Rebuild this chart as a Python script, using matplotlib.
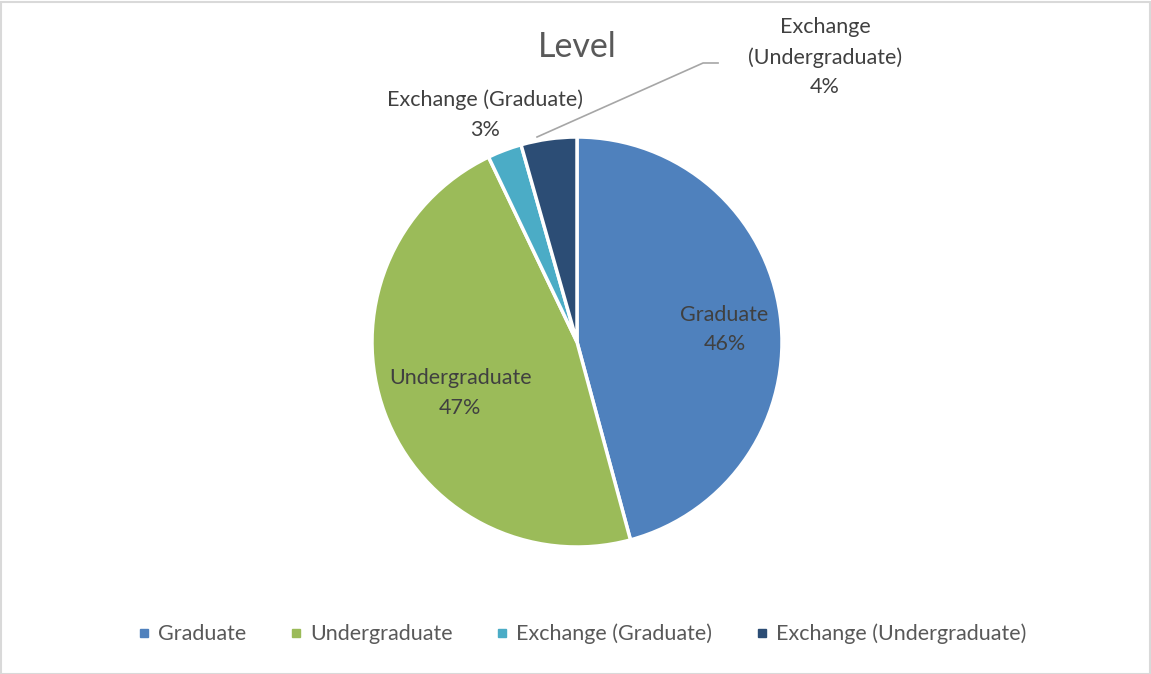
import matplotlib
matplotlib.use("Agg")
import matplotlib.pyplot as plt
from matplotlib.lines import Line2D
from matplotlib.patches import Rectangle

plt.rcParams["font.family"] = ["Lato", "DejaVu Sans"]

categories = ["Graduate", "Undergraduate", "Exchange (Graduate)", "Exchange (Undergraduate)"]
values = [45.8, 47.1, 2.7, 4.4]
colors = ["#4F81BD", "#9BBB59", "#4BACC6", "#2C4D75"]

W, H = 1151, 674
fig = plt.figure(figsize=(W / 100, H / 100), dpi=100)

# pie centre / radius in pixels
cx, cy, r = 577, 342, 205
ax = fig.add_axes([(cx - r) / W, (H - cy - r) / H, 2 * r / W, 2 * r / H])
ax.pie(values, colors=colors, startangle=90, counterclock=False,
       wedgeprops=dict(edgecolor="white", linewidth=2.5))
ax.set_xlim(-1, 1)
ax.set_ylim(-1, 1)
ax.set_aspect("equal")

total = sum(values)
pct = [f"{v / total * 100:.0f}%" for v in values]
lab_col = "#404040"
fs = 15.5
ls = 1.6
ax.text(0.72, 0.06, f"{categories[0]}\n{pct[0]}", ha="center", va="center",
        fontsize=fs, color=lab_col, linespacing=ls)
ax.text(-0.57, -0.25, f"{categories[1]}\n{pct[1]}", ha="center", va="center",
        fontsize=fs, color=lab_col, linespacing=ls)
ax.text(-0.45, 1.11, f"{categories[2]}\n{pct[2]}", ha="center", va="center",
        fontsize=fs, color=lab_col, linespacing=ls, clip_on=False)
ax.text(1.21, 1.39, f"Exchange\n(Undergraduate)\n{pct[3]}", ha="center", va="center",
        fontsize=fs, color=lab_col, linespacing=ls, clip_on=False)
ax.plot([-0.195, 0.615, 0.688], [1.0, 1.361, 1.361], color="#A6A6A6", lw=1.2,
        clip_on=False)

fig.text(577 / W, 1 - 47 / H, "Level", ha="center", va="center",
         fontsize=24.5, color="#595959")

handles = [Line2D([], [], marker="s", linestyle="none", markersize=6,
                  markerfacecolor=c, markeredgecolor=c) for c in colors]
fig.legend(handles, categories, loc="center", bbox_to_anchor=(582 / W, 1 - 634 / H),
           ncol=4, frameon=False, fontsize=15.5, handlelength=0.6, handletextpad=0.35,
           columnspacing=2.0, labelcolor="#595959")

fig.add_artist(Rectangle((0.5 / W, 0.5 / H), 1 - 2 / W, 1 - 2 / H, transform=fig.transFigure,
                         fill=False, edgecolor="#D9D9D9", linewidth=1.5))

fig.savefig("out.png", dpi=100)
